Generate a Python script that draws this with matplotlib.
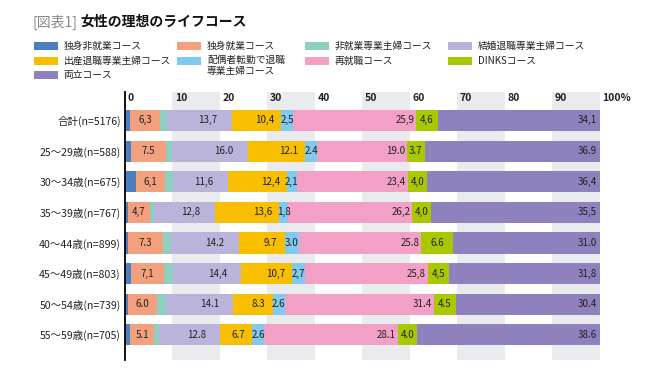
import numpy as np
import matplotlib.pyplot as plt
from matplotlib.patches import Rectangle

plt.rcParams['font.family'] = ['Noto Sans CJK JP', 'DejaVu Sans']

# data
rows = ['合計(n=5176)', '25～29歳(n=588)', '30～34歳(n=675)', '35～39歳(n=767)',
        '40～44歳(n=899)', '45～49歳(n=803)', '50～54歳(n=739)', '55～59歳(n=705)']
courses = ['独身非就業コース', '独身就業コース', '非就業専業主婦コース', '結婚退職専業主婦コース',
           '出産退職専業主婦コース', '配偶者転勤で退職\n専業主婦コース', '再就職コース',
           'DINKSコース', '両立コース']
single_nowork = [1.1, 1.2, 2.4, 0.6, 0.6, 1.2, 0.7, 1.1]
single_work = [6.3, 7.5, 6.1, 4.7, 7.3, 7.1, 6.0, 5.1]
housewife = [1.4, 1.2, 1.6, 0.8, 1.8, 1.8, 2.0, 1.0]
marriage_quit = [13.7, 16.0, 11.6, 12.8, 14.2, 14.4, 14.1, 12.8]
birth_quit = [10.4, 12.1, 12.4, 13.6, 9.7, 10.7, 8.3, 6.7]
transfer_quit = [2.5, 2.4, 2.1, 1.8, 3.0, 2.7, 2.6, 2.6]
reemploy = [25.9, 19.0, 23.4, 26.2, 25.8, 25.8, 31.4, 28.1]
dinks = [4.6, 3.7, 4.0, 4.0, 6.6, 4.5, 4.5, 4.0]
both = [34.1, 36.9, 36.4, 35.5, 31.0, 31.8, 30.4, 38.6]
decimal_sep = [',', '.', ',', ',', '.', ',', '.', '.']
xticks = [0, 10, 20, 30, 40, 50, 60, 70, 80, 90, 100]
xtick_labels = ['0', '10', '20', '30', '40', '50', '60', '70', '80', '90', '100%']

series = [single_nowork, single_work, housewife, marriage_quit, birth_quit,
          transfer_quit, reemploy, dinks, both]
colors = ['#4a7fc1', '#f3a07e', '#8dd0c0', '#bab4da', '#f8be00',
          '#80c9ef', '#f2a0c5', '#a9c800', '#8e81bd']
# label placement per segment: (align, inset in %), None = no label
label_style = [None, ('center', 0), None, ('right', 3.0), ('right', 1.5),
               ('center', 0), ('right', 0.4), ('center', 0), ('right', 0.6)]

fig = plt.figure(figsize=(6.68, 3.75), dpi=100)
ax = fig.add_axes([0.1871, 0.04, 0.7111, 0.7147])

y = np.arange(len(rows))
for v0, v1 in [(10, 20), (30, 40), (50, 60), (70, 80), (90, 100)]:
    ax.axvspan(v0, v1, color='#e9ebef', lw=0, zorder=0)

left = np.zeros(len(rows))
for vals, col, st in zip(series, colors, label_style):
    vals = np.array(vals)
    ax.barh(y, vals, left=left, height=0.69, color=col, lw=0, zorder=2)
    if st is not None:
        ha, inset = st
        for i, v in enumerate(vals):
            xp = left[i] + v / 2 if ha == 'center' else left[i] + v - inset
            txt = f'{v:.1f}'.replace('.', decimal_sep[i])
            ax.text(xp, y[i], txt, ha=ha, va='center', fontsize=7,
                    color='#222222', zorder=3)
    left += vals

for t, lab in zip(xticks, xtick_labels):
    ax.text(t + 0.5, -0.72, lab, ha='left', va='center', fontsize=7.5,
            fontweight='bold', color='#222222')

ax.set_xlim(0, 100)
ax.set_ylim(7.82, -0.93)
ax.set_yticks(y)
ax.set_yticklabels(rows, fontsize=7.6, color='#222222')
ax.tick_params(axis='y', length=0, pad=3)
ax.set_xticks([])
for s in ['top', 'right', 'bottom']:
    ax.spines[s].set_visible(False)
ax.spines['left'].set_color('black')
ax.spines['left'].set_linewidth(1.3)
ax.spines['left'].set_zorder(4)

# title
fig.text(32 / 668, 1 - 22 / 375, '[図表1]', fontsize=10, color='#888888', va='center')
fig.text(80 / 668, 1 - 22 / 375, '女性の理想のライフコース', fontsize=10,
         fontweight='bold', color='#111111', va='center')

# legend: 4 columns, 3 rows, same order as the courses
leg_pos = [(34, 46), (177, 46), (305, 46), (448, 46),
           (34, 61), (177, 61), (305, 61), (448, 61), (34, 75)]
for (px, py), lab, col in zip(leg_pos, courses, colors):
    fig.patches.append(Rectangle((px / 668, 1 - (py + 4) / 375), 24 / 668, 8 / 375,
                                 transform=fig.transFigure, color=col, lw=0))
    if '\n' in lab:
        fig.text((px + 30) / 668, 1 - (py - 6) / 375, lab, fontsize=7,
                 color='#222222', va='top', linespacing=1.15)
    else:
        fig.text((px + 30) / 668, 1 - py / 375, lab, fontsize=7,
                 color='#222222', va='center')

fig.savefig('out.png', dpi=100)
